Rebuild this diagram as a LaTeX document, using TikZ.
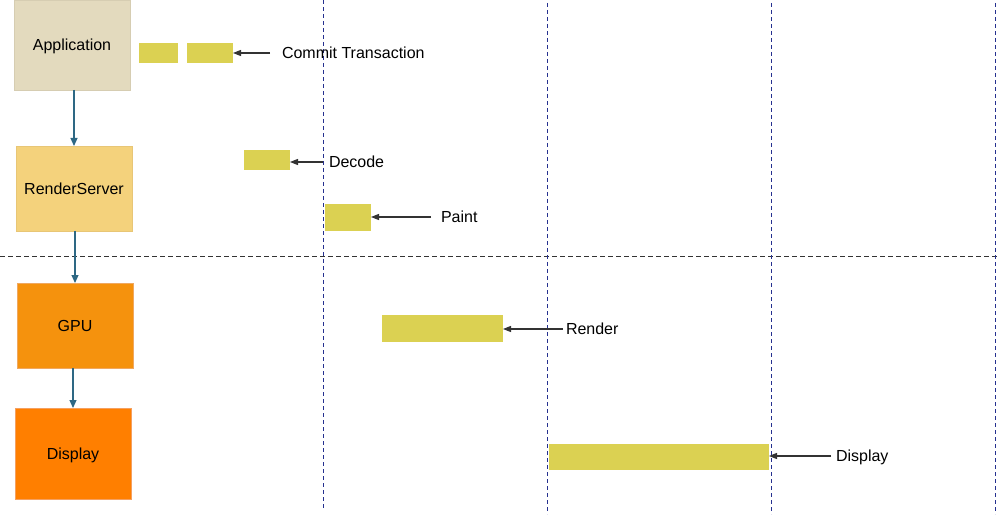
\documentclass[tikz,border=0pt]{standalone}
\usepackage{fontspec}
\setmainfont{Liberation Sans}
\usetikzlibrary{arrows.meta}
\definecolor{appfill}{HTML}{E3DABE}
\definecolor{appdraw}{HTML}{D6CDB2}
\definecolor{rsfill}{HTML}{F4D27C}
\definecolor{rsdraw}{HTML}{E8C676}
\definecolor{gpufill}{HTML}{F5920D}
\definecolor{gpudraw}{HTML}{F0A860}
\definecolor{dispfill}{HTML}{FF7F00}
\definecolor{dispdraw}{HTML}{F5A060}
\definecolor{barfill}{HTML}{DBD152}
\definecolor{flowcol}{HTML}{2E6884}
\definecolor{vlinecol}{HTML}{25308F}
\definecolor{hlinecol}{HTML}{333333}
\tikzset{
  stagebox/.style={rectangle, inner sep=0pt, outer sep=0pt, line width=0.8pt, text height=11.5pt, text depth=0pt, font=\fontsize{16pt}{18pt}\selectfont},
  barbox/.style={rectangle, fill=barfill, inner sep=0pt, outer sep=0pt},
  lbl/.style={anchor=west, inner sep=0pt, outer sep=0pt, text height=11.5pt, text depth=0pt, font=\fontsize{16pt}{18pt}\selectfont},
  flow/.style={draw=flowcol, line width=1.2pt, -{Triangle[width=7pt,length=8pt]}},
  pointer/.style={draw=black!80, line width=1.1pt, -{Triangle[width=6pt,length=8pt]}},
  vdash/.style={draw=vlinecol, line width=1pt, dash pattern=on 4pt off 3pt},
  hdash/.style={draw=hlinecol, line width=1pt, dash pattern=on 5pt off 3pt}
}
\begin{document}
\begin{tikzpicture}[x=1pt,y=-1pt]
\useasboundingbox (0,0) rectangle (997,516);
% grid lines
\draw[hdash] (0,256) -- (997,256);
\draw[vdash] (323,0) -- (323,509);
\draw[vdash] (547,3) -- (547,514);
\draw[vdash] (771,3) -- (771,514);
\draw[vdash] (995,3) -- (995,514);
% stage boxes
\node[stagebox, fill=appfill, draw=appdraw, minimum width=116, minimum height=90] (app) at (72,45) {Application};
\node[stagebox, fill=rsfill, draw=rsdraw, minimum width=116, minimum height=85] (rs) at (74,188.5) {RenderServer};
\node[stagebox, fill=gpufill, draw=gpudraw, minimum width=116, minimum height=85] (gpu) at (75,325.5) {GPU};
\node[stagebox, fill=dispfill, draw=dispdraw, minimum width=116, minimum height=91] (disp) at (73,453.5) {Display};
\draw[flow] (app.south -| rs.north) -- (rs.north);
\draw[flow] (rs.south -| gpu.north) -- (gpu.north);
\draw[flow] (gpu.south -| disp.north) -- (disp.north);
% bars
\node[barbox, minimum width=39, minimum height=20] (b1) at (158.5,53) {};
\node[barbox, minimum width=46, minimum height=20] (b2) at (210,53) {};
\node[barbox, minimum width=46, minimum height=20] (b3) at (267,160) {};
\node[barbox, minimum width=46, minimum height=27] (b4) at (348,217.5) {};
\node[barbox, minimum width=121, minimum height=27] (b5) at (442.5,328.5) {};
\node[barbox, minimum width=220, minimum height=26] (b6) at (659,457) {};
% labels
\node[lbl] (lct) at (282,53) {Commit Transaction};
\node[lbl] (ldec) at (329,162) {Decode};
\node[lbl] (lpaint) at (441,217) {Paint};
\node[lbl] (lrend) at (566,329) {Render};
\node[lbl] (ldisp) at (836,456) {Display};
\draw[pointer, shorten <=12pt] (lct.west) -- (lct.west -| b2.east);
\draw[pointer, shorten <=6pt] (ldec.west) -- (ldec.west -| b3.east);
\draw[pointer, shorten <=10pt] (lpaint.west) -- (lpaint.west -| b4.east);
\draw[pointer, shorten <=3pt] (lrend.west) -- (lrend.west -| b5.east);
\draw[pointer, shorten <=5pt] (ldisp.west) -- (ldisp.west -| b6.east);
\end{tikzpicture}
\end{document}
